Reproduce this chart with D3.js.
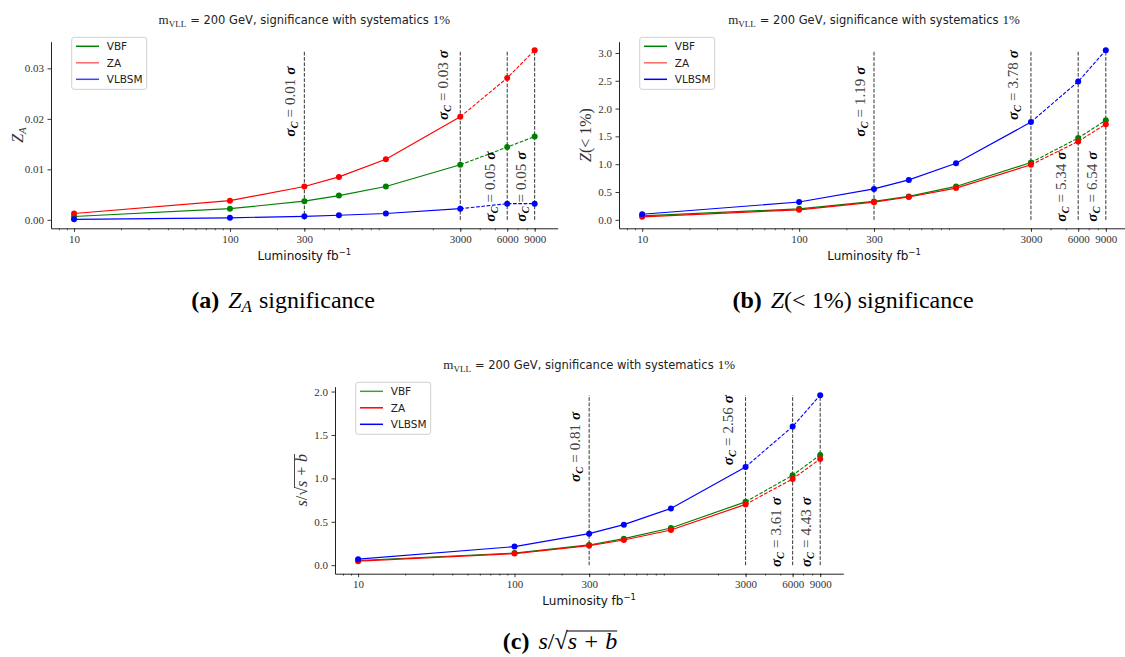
<!DOCTYPE html>
<html>
<head>
<meta charset="utf-8">
<script src="https://cdn.jsdelivr.net/npm/d3@7"></script>
<style>
  body { margin: 0; background: #fff; }
</style>
</head>
<body>
<svg id="fig" width="1125" height="657"></svg>
<script>
// Integrated luminosity points (fb^-1)
const luminosity = [10, 100, 300, 500, 1000, 3000, 6000, 9000];
const seriesNames = ["VBF", "ZA", "VLBSM"];
const seriesColors = ["#008000", "#ff0000", "#0000ff"];

// (a) Asimov significance Z_A
const zaVBF   = [0.00066, 0.0022, 0.0037, 0.0048, 0.0066, 0.0109, 0.0144, 0.0165];
const zaZA    = [0.00125, 0.0038, 0.0066, 0.0085, 0.0120, 0.0204, 0.0281, 0.0336];
const zaVLBSM = [0.0001, 0.0004, 0.0007, 0.0009, 0.00125, 0.0022, 0.0032, 0.0032];

// (b) Z(< 1%) significance
const zlVBF   = [0.07, 0.197, 0.33, 0.42, 0.60, 1.03, 1.47, 1.79];
const zlZA    = [0.054, 0.18, 0.317, 0.41, 0.57, 0.99, 1.41, 1.72];
const zlVLBSM = [0.10, 0.32, 0.556, 0.717, 1.016, 1.757, 2.487, 3.05];

// (c) s / sqrt(s + b)
const ssVBF   = [0.054, 0.14, 0.233, 0.306, 0.428, 0.73, 1.036, 1.27];
const ssZA    = [0.046, 0.134, 0.226, 0.29, 0.405, 0.70, 0.994, 1.224];
const ssVLBSM = [0.069, 0.214, 0.363, 0.467, 0.654, 1.132, 1.598, 1.958];

// Luminosities marked with a vertical line and the combined significance there
const markedLumi = [300, 3000, 6000, 9000];
const sigmaCombA = ["0.01", "0.03", "0.05", "0.05"];
const sigmaCombB = ["1.19", "3.78", "5.34", "6.54"];
const sigmaCombC = ["0.81", "2.56", "3.61", "4.43"];

// Tick labels
const xTickValues = [10, 100, 300, 3000, 6000, 9000];
const yTicksA = [0, 0.01, 0.02, 0.03];
const yTicksB = [0, 0.5, 1.0, 1.5, 2.0, 2.5, 3.0];
const yTicksC = [0, 0.5, 1.0, 1.5, 2.0];

const SERIF = "'Liberation Serif', 'Times New Roman', serif";
const SANS = "'DejaVu Sans', sans-serif";
const svg = d3.select("#fig");
svg.append("rect").attr("width", 1125).attr("height", 657).attr("fill", "#fff");

// Lays out a run of differently styled pieces on one baseline.
function rich(parent, x, y, pieces, opt = {}) {
  const anchor = opt.anchor || "start";
  const g = parent.append("g")
    .attr("transform", `translate(${x},${y}) rotate(${opt.rotate || 0})`);
  const inner = g.append("g");
  let cx = 0;
  pieces.forEach(p => {
    if (p.gap) { cx += p.gap; return; }
    const t = inner.append("text")
      .attr("x", cx).attr("y", p.dy || 0)
      .style("font-family", p.family || SERIF)
      .style("font-size", p.size + "px")
      .style("font-style", p.italic ? "italic" : "normal")
      .style("font-weight", p.bold ? "bold" : "normal")
      .attr("fill", p.fill || opt.fill || "#000")
      .text(p.t);
    const w = t.node().getComputedTextLength();
    if (p.overline !== undefined) {
      inner.append("line")
        .attr("x1", cx - 1).attr("x2", cx + w)
        .attr("y1", p.overline).attr("y2", p.overline)
        .attr("stroke", p.fill || opt.fill || "#000")
        .attr("stroke-width", p.overlineWidth || 0.9);
    }
    cx += w;
  });
  const shift = anchor === "middle" ? -cx / 2 : anchor === "end" ? -cx : 0;
  inner.attr("transform", `translate(${shift},0)`);
  return g;
}

function drawPanel(cfg) {
  const g = svg.append("g");
  const seriesValues = cfg.series;
  const yMax = d3.max(seriesValues.flat());
  const yPad = 0.05 * yMax;
  const lx0 = Math.log10(d3.min(luminosity)), lx1 = Math.log10(d3.max(luminosity));
  const xPad = 0.05 * (lx1 - lx0);

  const x = d3.scaleLog()
    .domain([Math.pow(10, lx0 - xPad), Math.pow(10, lx1 + xPad)])
    .range([cfg.left, cfg.right]);
  const y = d3.scaleLinear()
    .domain([-yPad, yMax + yPad])
    .range([cfg.bottom, cfg.top]);

  // minor log ticks
  const [d0, d1] = x.domain();
  const minor = [];
  for (let e = Math.floor(Math.log10(d0)); e <= Math.ceil(Math.log10(d1)); e++) {
    for (let m = 2; m <= 9; m++) {
      const v = m * Math.pow(10, e);
      if (v >= d0 && v <= d1) minor.push(v);
    }
  }
  const minorAxis = g.append("g")
    .attr("transform", `translate(0,${cfg.bottom})`)
    .call(d3.axisBottom(x).tickValues(minor).tickSize(2).tickFormat(""));
  minorAxis.select(".domain").remove();
  minorAxis.selectAll("line").attr("stroke", "#222").attr("stroke-width", 0.7);

  const xAxis = g.append("g")
    .attr("transform", `translate(0,${cfg.bottom})`)
    .call(d3.axisBottom(x).tickValues(xTickValues).tickFormat(d3.format("d"))
      .tickSize(3.5).tickPadding(3.5).tickSizeOuter(0));
  xAxis.select(".domain").attr("stroke", "#222").attr("stroke-width", 1);
  xAxis.selectAll(".tick line").attr("stroke", "#222").attr("stroke-width", 0.9);
  xAxis.selectAll("text").style("font-family", SERIF).style("font-size", "11px").attr("fill", "#333");

  const yAxis = g.append("g")
    .attr("transform", `translate(${cfg.left},0)`)
    .call(d3.axisLeft(y).tickValues(cfg.yTicks).tickFormat(d3.format(cfg.yFmt))
      .tickSize(3.5).tickPadding(3.5).tickSizeOuter(0));
  yAxis.select(".domain").attr("stroke", "#222").attr("stroke-width", 1);
  yAxis.selectAll(".tick line").attr("stroke", "#222").attr("stroke-width", 0.9);
  yAxis.selectAll("text").style("font-family", SERIF).style("font-size", "11px").attr("fill", "#333");

  // vertical reference lines
  markedLumi.forEach(L => {
    g.append("line")
      .attr("x1", x(L)).attr("x2", x(L))
      .attr("y1", y(0)).attr("y2", y(yMax))
      .attr("stroke", "#111").attr("stroke-opacity", 0.85)
      .attr("stroke-width", 1).attr("stroke-dasharray", "3.7,1.6");
  });

  // series: solid up to 3000, dashed beyond
  const line = d3.line().x(d => x(d[0])).y(d => y(d[1]));
  seriesValues.forEach((vals, i) => {
    const pts = luminosity.map((L, k) => [L, vals[k]]);
    g.append("path").datum(pts.filter(p => p[0] <= 3000)).attr("d", line)
      .attr("fill", "none").attr("stroke", seriesColors[i]).attr("stroke-width", 1.2);
    g.append("path").datum(pts.filter(p => p[0] >= 3000)).attr("d", line)
      .attr("fill", "none").attr("stroke", seriesColors[i]).attr("stroke-width", 1.1)
      .attr("stroke-dasharray", "3.7,1.6");
    g.selectAll(null).data(pts).enter().append("circle")
      .attr("cx", d => x(d[0])).attr("cy", d => y(d[1])).attr("r", 3)
      .attr("fill", seriesColors[i]);
  });

  // rotated sigma_C labels
  const h = cfg.bottom - cfg.top;
  const labelBottom = [95.0, 78.3, 180, 180];
  const labelOffset = [-9.5, -12.5, -12, -9];
  markedLumi.forEach((L, k) => {
    rich(g, x(L) + labelOffset[k], cfg.top + labelBottom[k] * h / 186.6, [
      { t: "σ", italic: true, bold: true, size: 15 },
      { t: "C", italic: true, bold: true, size: 10.5, dy: 3 },
      { gap: 4 },
      { t: "=", size: 15, fill: "#444" },
      { gap: 4 },
      { t: cfg.sigma[k], size: 15, fill: "#444" },
      { gap: 4 },
      { t: "σ", italic: true, bold: true, size: 15 }
    ], { rotate: -90 });
  });

  // title
  const cxm = (cfg.left + cfg.right) / 2;
  rich(g, cxm, cfg.top - 17.7, [
    { t: "m", size: 13, fill: "#222" },
    { t: "VLL", size: 9, dy: 2.5, fill: "#222" },
    { gap: 4 },
    { t: "= 200 GeV, significance with systematics", family: SANS, size: 11.5, fill: "#222" },
    { gap: 4 },
    { t: "1%", size: 13, fill: "#222" }
  ], { anchor: "middle" });

  // x label
  rich(g, cxm, cfg.bottom + 31.2, [
    { t: "Luminosity fb", family: SANS, size: 12, fill: "#111" },
    { t: "−1", family: SANS, size: 8.5, dy: -5, fill: "#111" }
  ], { anchor: "middle" });

  // y label
  rich(g, cfg.left - 28, (cfg.top + cfg.bottom) / 2, cfg.yLabel, { anchor: "middle", rotate: -90, fill: "#333" });

  // legend
  const lg = g.append("g").attr("transform", `translate(${cfg.left + 20.7},${cfg.top - 4.4})`);
  lg.append("rect").attr("width", 75).attr("height", 52).attr("rx", 2.5)
    .attr("fill", "#fff").attr("fill-opacity", 0.8)
    .attr("stroke", "#d0d0d0").attr("stroke-width", 1);
  seriesNames.forEach((name, i) => {
    const ry = 9 + i * 16.5;
    lg.append("line").attr("x1", 4.3).attr("x2", 27.3).attr("y1", ry).attr("y2", ry)
      .attr("stroke", seriesColors[i]).attr("stroke-width", 1.5)
      .attr("stroke-opacity", cfg.legendOpacity[i]);
    lg.append("text").attr("x", 35).attr("y", ry + 3.8)
      .style("font-family", SANS).style("font-size", "10.5px").attr("fill", "#222").text(name);
  });

  // caption
  rich(svg, cfg.capX, cfg.capY, cfg.caption, { anchor: "middle" });
}

const capSize = 24;
drawPanel({
  left: 51, right: 557.7, top: 41.7, bottom: 228.3,
  series: [zaVBF, zaZA, zaVLBSM], yTicks: yTicksA, yFmt: ".2f", sigma: sigmaCombA,
  legendOpacity: [1, 0.6, 0.75],
  yLabel: [
    { t: "Z", italic: true, size: 16 },
    { t: "A", italic: true, size: 11, dy: 3 }
  ],
  capX: 283, capY: 308,
  caption: [
    { t: "(a)", bold: true, size: capSize },
    { gap: 9 },
    { t: "Z", italic: true, size: capSize },
    { t: "A", italic: true, size: 17, dy: 4 },
    { gap: 7 },
    { t: "significance", size: capSize }
  ]
});

drawPanel({
  left: 619, right: 1129, top: 41.7, bottom: 228.3,
  series: [zlVBF, zlZA, zlVLBSM], yTicks: yTicksB, yFmt: ".1f", sigma: sigmaCombB,
  legendOpacity: [1, 0.6, 1],
  yLabel: [
    { t: "Z", italic: true, size: 16 },
    { t: "(< 1%)", size: 16 }
  ],
  capX: 853, capY: 308,
  caption: [
    { t: "(b)", bold: true, size: capSize },
    { gap: 9 },
    { t: "Z", italic: true, size: capSize },
    { t: "(< 1%) significance", size: capSize }
  ]
});

drawPanel({
  left: 335, right: 843.3, top: 386.7, bottom: 573.7,
  series: [ssVBF, ssZA, ssVLBSM], yTicks: yTicksC, yFmt: ".1f", sigma: sigmaCombC,
  legendOpacity: [0.75, 1, 1],
  yLabel: [
    { t: "s", italic: true, size: 16 },
    { t: "/", size: 16 },
    { t: "√", size: 16 },
    { t: "s + b", italic: true, size: 16, overline: -12.5 }
  ],
  capX: 560, capY: 649,
  caption: [
    { t: "(c)", bold: true, size: capSize },
    { gap: 9 },
    { t: "s", italic: true, size: capSize },
    { t: "/", size: capSize },
    { t: "√", size: capSize },
    { t: "s + b", italic: true, size: capSize, overline: -18, overlineWidth: 1.2 }
  ]
});
</script>
</body>
</html>
